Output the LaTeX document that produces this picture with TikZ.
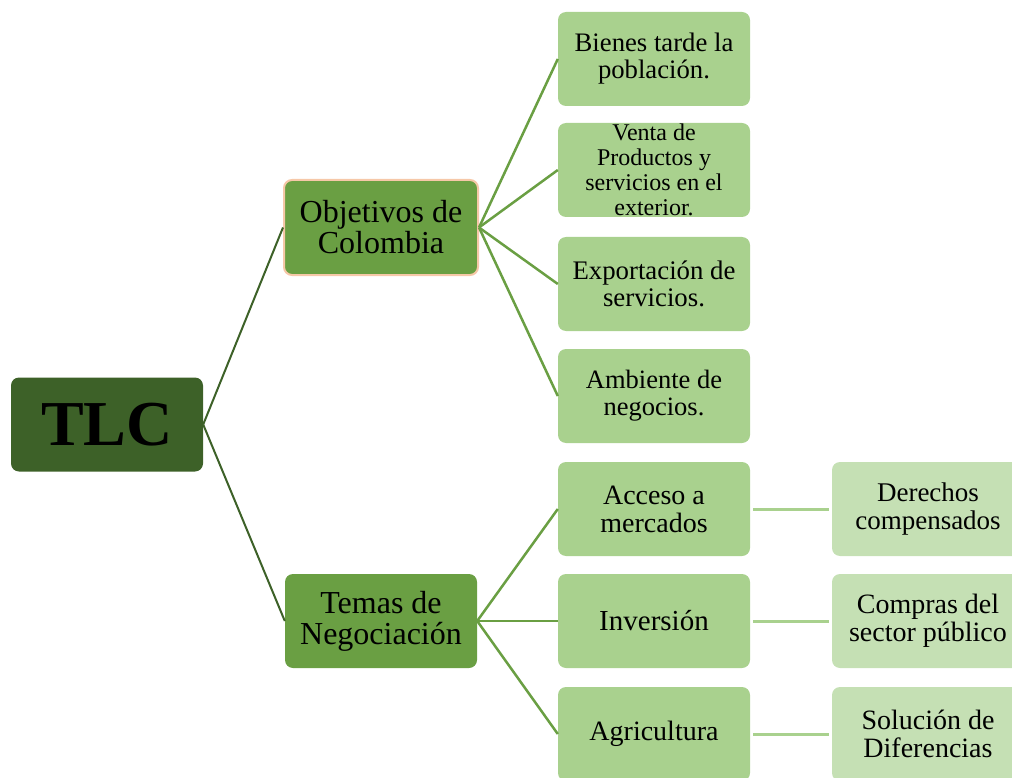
\documentclass[tikz,border=0pt]{standalone}
\usepackage{fontspec}
\setmainfont{Liberation Serif}
\definecolor{dkg}{HTML}{3D6128}
\definecolor{mdg}{HTML}{6A9F43}
\definecolor{ltg}{HTML}{A9D18E}
\definecolor{vlg}{HTML}{C5E0B4}
\definecolor{peach}{HTML}{F6C8A8}
\newcommand{\fsz}[2]{\fontsize{#1}{#2}\selectfont}
\tikzset{
  box/.style={rounded corners=8pt, minimum width=192pt, minimum height=94pt, align=center, inner sep=1pt, text=black},
  rootbox/.style={box, fill=dkg, font=\fsz{64}{66}\bfseries},
  midbox/.style={box, fill=mdg, font=\fsz{32}{31}},
  leafbox/.style={box, fill=ltg, font=\fsz{27}{27}},
  farbox/.style={box, fill=vlg, font=\fsz{27}{27}},
  rootline/.style={draw=dkg, line width=2pt},
  midline/.style={draw=mdg, line width=2.5pt},
  leafline/.style={draw=ltg, line width=3pt}
}
\begin{document}
\begin{tikzpicture}[x=1pt,y=-1pt]
\useasboundingbox (0,0) rectangle (1012,778);
\begin{scope}
\clip (0,0) rectangle (1012,778);
\node[rootbox] (tlc) at (107,424.5) {TLC};
\node[midbox, draw=peach, line width=2pt, minimum width=194pt, minimum height=95pt] (obj) at (381,227.5) {Objetivos de\\Colombia};
\node[midbox] (tem) at (381,621) {Temas de\\Negociaci\'on};
\node[leafbox, font=\fsz{26.7}{27}] (b1) at (654,59) {Bienes tarde la\\poblaci\'on.};
\node[leafbox, font=\fsz{24}{25}] (b2) at (654,170) {Venta de\\Productos y\\servicios en el\\exterior.};
\node[leafbox, font=\fsz{26.8}{27}] (b3) at (654,284) {Exportaci\'on de\\servicios.};
\node[leafbox, font=\fsz{26.5}{27}] (b4) at (654,396) {Ambiente de\\negocios.};
\node[leafbox, font=\fsz{28}{28}] (b5) at (654,509) {Acceso a\\mercados};
\node[leafbox, font=\fsz{29}{29}] (b6) at (654,621) {Inversi\'on};
\node[leafbox, font=\fsz{28}{28}] (b7) at (654,734) {Agricultura};
\node[farbox, font=\fsz{27}{28}] (c1) at (928,509) {Derechos\\compensados};
\node[farbox, font=\fsz{28}{28}] (c2) at (928,621) {Compras del\\sector p\'ublico};
\node[farbox, font=\fsz{28}{28}] (c3) at (928,734) {Soluci\'on de\\Diferencias};
\draw[rootline] (tlc.east) -- (obj.west);
\draw[rootline] (tlc.east) -- (tem.west);
\foreach \n in {b1,b2,b3,b4} \draw[midline] (obj.east) -- (\n.west);
\foreach \n in {b5,b6,b7} \draw[midline] (tem.east) -- (\n.west);
\draw[leafline] ([xshift=3pt]b5.east) -- ([xshift=-3pt]c1.west);
\draw[leafline] ([xshift=3pt]b6.east) -- ([xshift=-3pt]c2.west);
\draw[leafline] ([xshift=3pt]b7.east) -- ([xshift=-3pt]c3.west);
\end{scope}
\end{tikzpicture}
\end{document}
